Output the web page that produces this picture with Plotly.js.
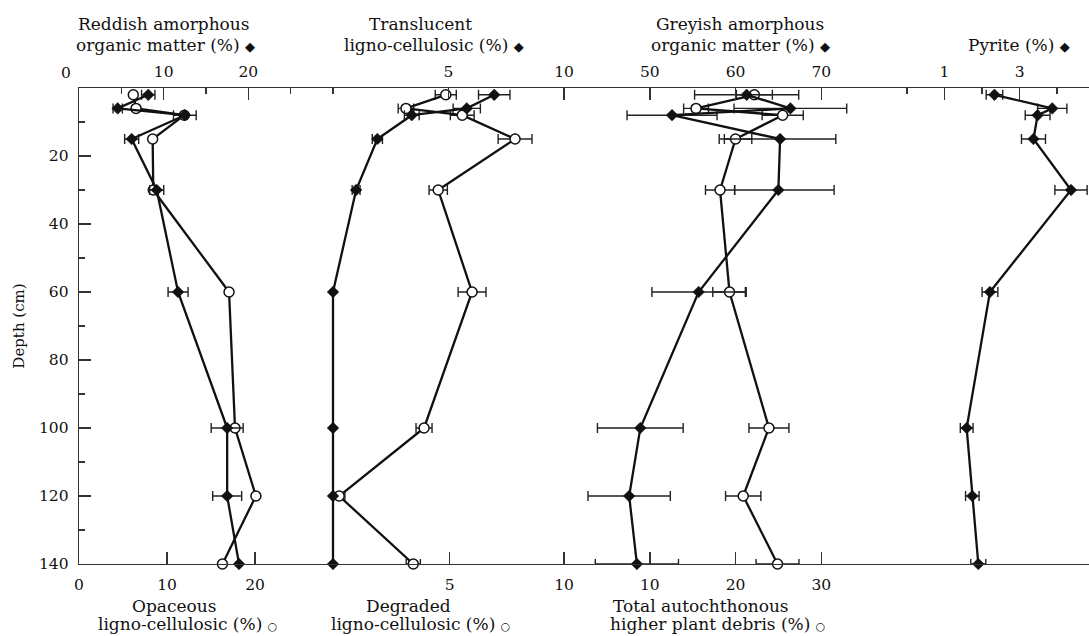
<!DOCTYPE html>
<html>
<head>
<meta charset="utf-8">
<script src="https://cdn.plot.ly/plotly-3.0.1.min.js"></script>
<style>
  html, body { margin: 0; padding: 0; background: #fff; }
  #chart { width: 1089px; height: 636px; }
</style>
</head>
<body>
<div id="chart"></div>
<script>
// ---- data (depth in cm, values in %) ----
const depth = [2, 6, 8, 15, 30, 60, 100, 120, 140];

const reddish      = [8.18, 4.57, 12.5, 6.22, 9.18, 11.7, 17.5, 17.5, 18.9];
const reddishErr   = [0.79, 0.55, 1.34, 0.83, 0.83, 1.18, 1.89, 1.71, 0];
const opaceous     = [6.17, 6.48, 11.97, 8.37, 8.44, 17.05, 17.73, 20.1, 16.3];

const translucent    = [6.98, 5.79, 3.41, 1.92, 1.0, 0, 0, 0, 0];
const translucentErr = [0.68, 0.59, 0.32, 0.22, 0.17, 0, 0, 0, 0];
const degraded       = [4.83, 3.09, 5.55, 7.86, 4.5, 5.98, 3.88, 0.17, 3.41];
const degradedErr    = [0.46, 0.34, 0.52, 0.74, 0.4, 0.61, 0.35, 0.25, 0.31];

const greyish          = [61.3, 66.4, 52.6, 65.2, 65.0, 55.7, 48.9, 47.6, 48.5];
const greyishErrPlus   = [6.07, 6.57, 5.25, 6.5, 6.5, 5.45, 5.0, 4.8, 4.85];
const greyishErrMinus  = [6.07, 6.57, 5.25, 6.5, 5.1, 5.45, 5.0, 4.8, 4.85];
const totalAuto        = [22.2, 15.4, 25.5, 20.0, 18.2, 19.3, 23.9, 20.9, 24.9];
const totalAutoErr     = [2.1, 1.45, 2.4, 1.9, 1.7, 1.95, 2.33, 2.06, 2.5];

const pyrite    = [2.33, 3.87, 3.48, 3.37, 4.37, 2.21, 1.59, 1.74, 1.9];
const pyriteErr = [0.22, 0.39, 0.33, 0.32, 0.43, 0.21, 0.17, 0.18, 0.2];

const depthTicks      = [20, 40, 60, 80, 100, 120, 140];
const depthMinorTicks = [10, 30, 50, 70, 90, 110, 130];

// ---- layout geometry helpers ----
const L = 79, R = 1089, T = 88, B = 564;
const FONT = 'DejaVu Serif';
const INK = '#111';
const AX = '#333';
const TICKSIZE = 15.5;
function px2paperX(p) { return (p - L) / (R - L); }
function px2paperY(p) { return (B - p) / (B - T); }
function rangeFor(v0, p0, ppu) { return [v0 - (p0 - L) / ppu, v0 + (R - p0) / ppu]; }

function xAxis(opts) {
  const a = {
    domain: [0, 1],
    range: opts.range,
    side: opts.side,
    anchor: 'y',
    showline: true, linecolor: AX, linewidth: 1.3,
    showgrid: false, zeroline: false,
    ticks: 'inside', ticklen: 12, tickwidth: 1.5, tickcolor: AX,
    tickmode: 'array', tickvals: opts.tickvals, ticktext: opts.ticktext || opts.tickvals.map(String),
    tickfont: { family: FONT, size: TICKSIZE, color: INK },
    ticklabelstandoff: opts.side === 'top' ? 4 : 6,
    fixedrange: true
  };
  if (opts.minor) {
    a.minor = { tickmode: 'array', tickvals: opts.minor, ticks: 'inside', ticklen: 6, tickwidth: 1.5, tickcolor: AX, showgrid: false };
  }
  if (opts.overlay) a.overlaying = 'x';
  return a;
}

function diamondTrace(x, xaxis, errPlus, errMinus) {
  const t = {
    x: x, y: depth, xaxis: xaxis, yaxis: 'y', type: 'scatter', mode: 'lines+markers',
    line: { color: INK, width: 2.3 },
    marker: { symbol: 'diamond', size: 9, color: INK, line: { color: INK, width: 0.5 } },
    cliponaxis: false, showlegend: false, hoverinfo: 'skip'
  };
  if (errPlus) {
    t.error_x = { type: 'data', array: errPlus, color: '#222', thickness: 1.4, width: 5 };
    if (errMinus) { t.error_x.symmetric = false; t.error_x.arrayminus = errMinus; }
    else t.error_x.symmetric = true;
  }
  return t;
}
function circleTrace(x, xaxis, err) {
  const t = {
    x: x, y: depth, xaxis: xaxis, yaxis: 'y', type: 'scatter', mode: 'lines+markers',
    line: { color: INK, width: 2.3 },
    marker: { symbol: 'circle', size: 10, color: '#fff', line: { color: INK, width: 1.5 } },
    cliponaxis: false, showlegend: false, hoverinfo: 'skip'
  };
  if (err) t.error_x = { type: 'data', array: err, symmetric: true, color: '#222', thickness: 1.4, width: 5 };
  return t;
}

const data = [
  diamondTrace(reddish, 'x2', reddishErr),
  diamondTrace(translucent, 'x4', translucentErr),
  diamondTrace(greyish, 'x6', greyishErrPlus, greyishErrMinus),
  diamondTrace(pyrite, 'x7', pyriteErr),
  circleTrace(opaceous, 'x'),
  circleTrace(degraded, 'x3', degradedErr),
  circleTrace(totalAuto, 'x5', totalAutoErr)
];

function ann(text, px, py, size) {
  return {
    text: text, xref: 'paper', yref: 'paper', x: px2paperX(px), y: px2paperY(py),
    xanchor: 'center', yanchor: 'middle', showarrow: false,
    font: { family: FONT, size: size || 17, color: INK }
  };
}
const DIA = ' <span style="font-size:13px">\u25C6</span>';
const CIR = ' <span style="font-size:11px">\u25CB</span>';

const layout = {
  width: 1089, height: 636,
  margin: { l: L, r: 1089 - R, t: T, b: 636 - B, pad: 0 },
  paper_bgcolor: '#fff', plot_bgcolor: 'rgba(0,0,0,0)',
  showlegend: false,
  xaxis:  xAxis({ range: rangeFor(0, 79, 8.8),      side: 'bottom', tickvals: [0, 10, 20] }),
  xaxis2: xAxis({ range: rangeFor(0, 79, 8.4667),   side: 'top',    tickvals: [10, 20], minor: [5, 15, 25], overlay: true }),
  xaxis3: xAxis({ range: rangeFor(0, 335.3, 22.87), side: 'bottom', tickvals: [5, 10], overlay: true }),
  xaxis4: xAxis({ range: rangeFor(0, 333, 23.1),    side: 'top',    tickvals: [5, 10], minor: [0], overlay: true }),
  xaxis5: xAxis({ range: rangeFor(0, 564, 8.575),   side: 'bottom', tickvals: [10, 20, 30], overlay: true }),
  xaxis6: xAxis({ range: rangeFor(40, 564, 8.575),  side: 'top',    tickvals: [50, 60, 70], overlay: true }),
  xaxis7: xAxis({ range: rangeFor(0, 907, 37.53),   side: 'top',    tickvals: [1, 3], minor: [0, 2, 4], overlay: true }),
  yaxis: {
    domain: [0, 1], range: [140, 0], anchor: 'x', side: 'left',
    showline: true, linecolor: AX, linewidth: 1.3,
    showgrid: false, zeroline: false,
    ticks: 'inside', ticklen: 12, tickwidth: 1.5, tickcolor: AX,
    tickmode: 'array', tickvals: depthTicks, ticktext: depthTicks.map(String),
    tickfont: { family: FONT, size: TICKSIZE, color: INK },
    ticklabelstandoff: 6,
    minor: { tickmode: 'array', tickvals: depthMinorTicks, ticks: 'inside', ticklen: 6, tickwidth: 1.5, tickcolor: AX, showgrid: false },
    title: { text: 'Depth (cm)', font: { family: FONT, size: 15, color: INK }, standoff: 10 },
    fixedrange: true
  },
  annotations: [
    ann('0', 66, 73, TICKSIZE),
    ann('Reddish amorphous', 164, 24),
    ann('organic matter (%)' + DIA, 165, 45),
    ann('Translucent', 420, 24),
    ann('ligno-cellulosic (%)' + DIA, 434, 45),
    ann('Greyish amorphous', 740, 24),
    ann('organic matter (%)' + DIA, 740, 45),
    ann('Pyrite (%)' + DIA, 1019, 45),
    ann('Opaceous', 174, 606),
    ann('ligno-cellulosic (%)' + CIR, 187, 624),
    ann('Degraded', 408, 606),
    ann('ligno-cellulosic (%)' + CIR, 420, 624),
    ann('Total autochthonous', 701, 606),
    ann('higher plant debris (%)' + CIR, 717, 624)
  ]
};

Plotly.newPlot('chart', data, layout, { staticPlot: true, displayModeBar: false });
</script>
</body>
</html>
